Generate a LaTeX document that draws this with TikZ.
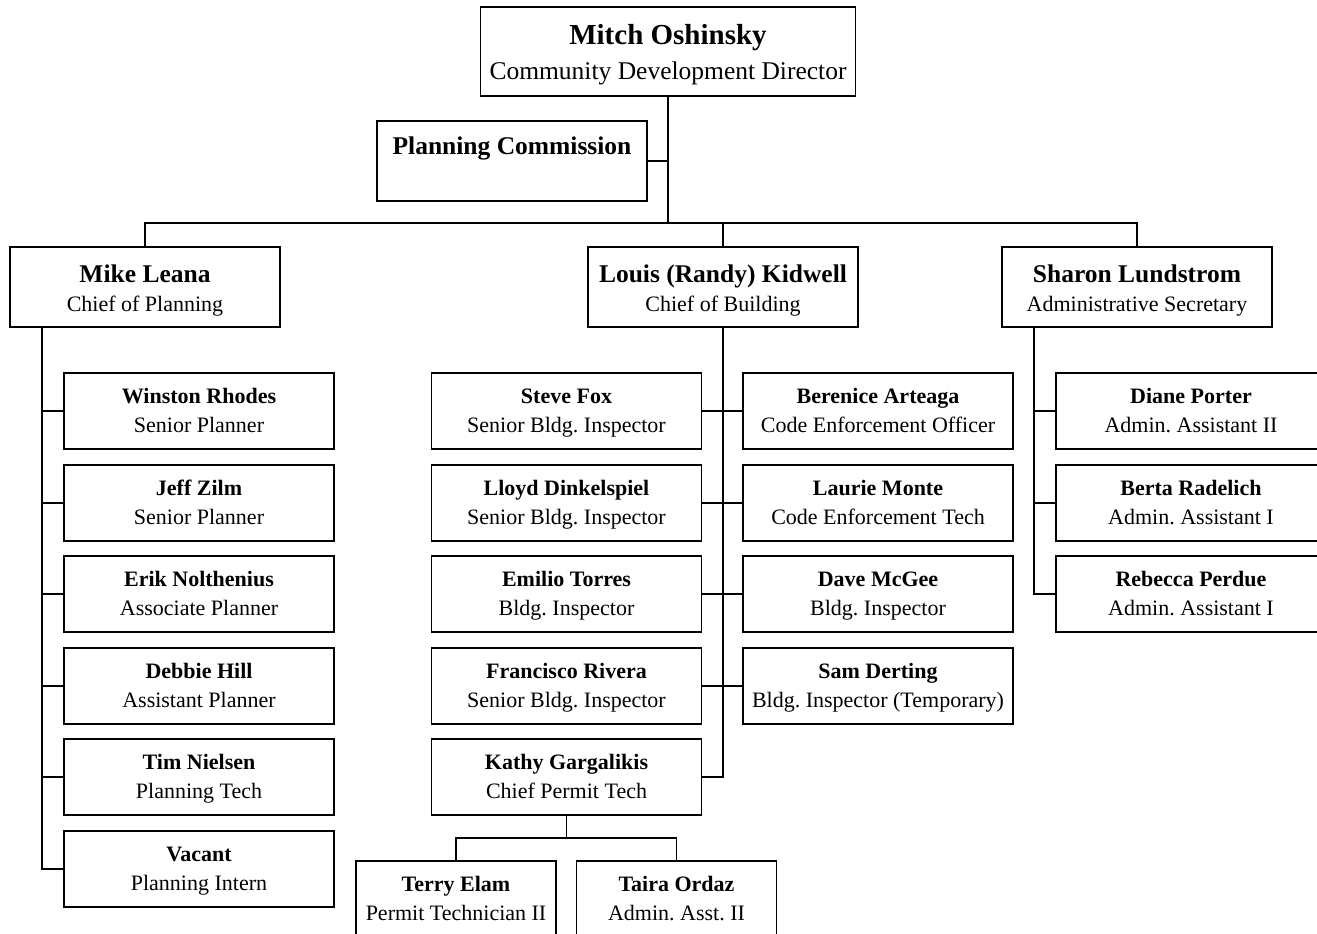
\documentclass[tikz,border=0pt]{standalone}
\usepackage{fontspec}
\setmainfont{Liberation Serif}
\frenchspacing
\begin{document}
\begin{tikzpicture}[x=1pt,y=-1pt,
  box/.style={draw, rectangle, line width=1.8pt, inner sep=0pt, fill=white},
  link/.style={line width=1.8pt},
  headname/.style={anchor=base, inner sep=0pt, font=\fontsize{29}{34}\selectfont\bfseries},
  headrole/.style={anchor=base, inner sep=0pt, font=\fontsize{25.5}{30}\selectfont},
  chiefname/.style={anchor=base, inner sep=0pt, font=\fontsize{25.5}{30}\selectfont\bfseries},
  chiefrole/.style={anchor=base, inner sep=0pt, font=\fontsize{22}{26}\selectfont},
  staffname/.style={anchor=base, inner sep=0pt, font=\fontsize{22}{26}\selectfont\bfseries},
  staffrole/.style={anchor=base, inner sep=0pt, font=\fontsize{22}{26}\selectfont}]

% staff card: [width] node name, centre, person, title
\newcommand{\staffcard}[5][270pt]{%
  \node[box, minimum width=#1, minimum height=76pt] (#2) at #3 {};
  \node[staffname] (#2-name) at ([yshift=-31pt]#2.north) {#4};
  \node[staffrole] (#2-role) at ([yshift=-60pt]#2.north) {#5};
}
% division chief card: node name, centre, person, title
\newcommand{\chiefcard}[4]{%
  \node[box, minimum width=270pt, minimum height=80pt] (#1) at #2 {};
  \node[chiefname] (#1-name) at ([yshift=-36pt]#1.north) {#3};
  \node[chiefrole] (#1-role) at ([yshift=-65pt]#1.north) {#4};
}

\useasboundingbox (0,0) rectangle (1317,934);
\clip (0,0) rectangle (1317,934);

% director and commission
\node[box, minimum width=375pt, minimum height=89pt] (head) at (668,51.5) {};
\node[headname] (head-name) at ([yshift=-38pt]head.north) {Mitch Oshinsky};
\node[headrole] (head-role) at ([yshift=-73pt]head.north) {Community Development Director};

\node[box, minimum width=270pt, minimum height=80pt] (pc) at (512,161) {};
\node[chiefname] (pc-name) at ([yshift=-34pt]pc.north) {Planning Commission};

% division chiefs
\chiefcard{mike}{(145,287)}{Mike Leana}{Chief of Planning}
\chiefcard{louis}{(723,287)}{Louis (Randy) Kidwell}{Chief of Building}
\chiefcard{sharon}{(1137,287)}{Sharon Lundstrom}{Administrative Secretary}

% planning staff
\staffcard{winston}{(199,411)}{Winston Rhodes}{Senior Planner}
\staffcard{jeff}{(199,503)}{Jeff Zilm}{Senior Planner}
\staffcard{erik}{(199,594)}{Erik Nolthenius}{Associate Planner}
\staffcard{debbie}{(199,686)}{Debbie Hill}{Assistant Planner}
\staffcard{tim}{(199,777)}{Tim Nielsen}{Planning Tech}
\staffcard{vacant}{(199,869)}{Vacant}{Planning Intern}

% building staff
\staffcard{steve}{(566.5,411)}{Steve Fox}{Senior Bldg. Inspector}
\staffcard{lloyd}{(566.5,503)}{Lloyd Dinkelspiel}{Senior Bldg. Inspector}
\staffcard{emilio}{(566.5,594)}{Emilio Torres}{Bldg. Inspector}
\staffcard{francisco}{(566.5,686)}{Francisco Rivera}{Senior Bldg. Inspector}
\staffcard{kathy}{(566.5,777)}{Kathy Gargalikis}{Chief Permit Tech}
\staffcard{berenice}{(878,411)}{Berenice Arteaga}{Code Enforcement Officer}
\staffcard{laurie}{(878,503)}{Laurie Monte}{Code Enforcement Tech}
\staffcard{dave}{(878,594)}{Dave McGee}{Bldg. Inspector}
\staffcard{sam}{(878,686)}{Sam Derting}{Bldg. Inspector (Temporary)}
\staffcard[200pt]{terry}{(456,899)}{Terry Elam}{Permit Technician II}
\staffcard[200pt]{taira}{(676.5,899)}{Taira Ordaz}{Admin. Asst. II}

% administrative staff
\staffcard{diane}{(1191,411)}{Diane Porter}{Admin. Assistant II}
\staffcard{berta}{(1191,503)}{Berta Radelich}{Admin. Assistant I}
\staffcard{rebecca}{(1191,594)}{Rebecca Perdue}{Admin. Assistant I}

% reporting lines
\coordinate (bus) at (668,223);
\draw[link] (head.south) -- (bus);
\draw[link] (pc.east) -- (pc.east -| head.south);
\draw[link] (mike.north) |- (bus) -| (sharon.north);
\draw[link] (louis.north) |- (bus);

\coordinate (mspine) at ([xshift=33pt]mike.south west);
\foreach \n in {winston,jeff,erik,debbie,tim,vacant}
  \draw[link] (mspine) |- (\n.west);

\coordinate (sspine) at ([xshift=33pt]sharon.south west);
\foreach \n in {diane,berta,rebecca}
  \draw[link] (sspine) |- (\n.west);

\draw[link] (louis.south) |- (kathy.east);
\draw[link] (steve.east) -- (berenice.west);
\draw[link] (lloyd.east) -- (laurie.west);
\draw[link] (emilio.east) -- (dave.west);
\draw[link] (francisco.east) -- (sam.west);

\path (kathy.south) ++(0,22) coordinate (kbus);
\draw[link] (kathy.south) -- (kbus);
\draw[link] (terry.north) |- (kbus) -| (taira.north);
\end{tikzpicture}
\end{document}
